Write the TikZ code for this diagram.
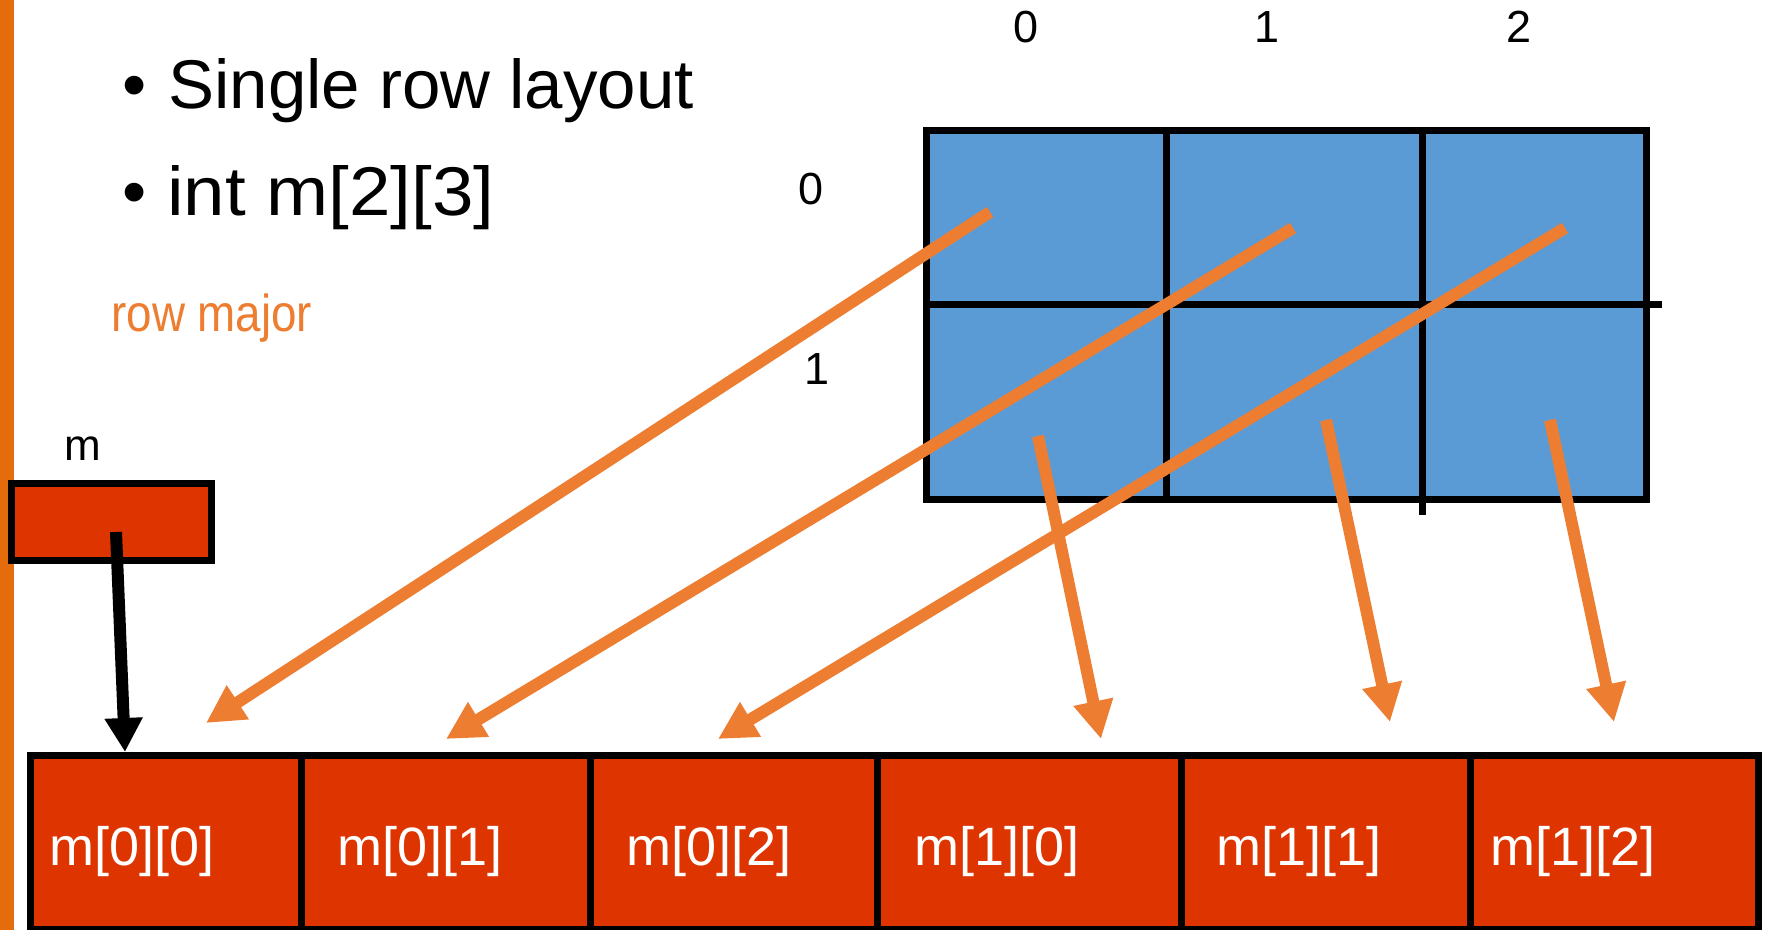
\documentclass[tikz,border=0pt]{standalone}
\usepackage{fontspec}
\setmainfont{Liberation Sans}
\newfontfamily\condfont[FakeStretch=0.88]{Liberation Sans}
\usetikzlibrary{arrows.meta,fit}

\definecolor{barorange}{RGB}{228,108,10}
\definecolor{linkorange}{RGB}{237,125,49}
\definecolor{cellblue}{RGB}{91,155,213}
\definecolor{memred}{RGB}{221,52,0}

\begin{document}
\begin{tikzpicture}[x=0.5pt,y=-0.5pt,
  gridcell/.style={draw=black, line width=3.5pt, fill=cellblue, inner sep=0pt, outer sep=0pt},
  memcell/.style={draw=black, line width=3.5pt, fill=memred, inner sep=0pt, outer sep=0pt},
  memlabel/.style={anchor=base west, text=white, font=\fontsize{27}{30}\selectfont, inner sep=0pt},
  idx/.style={anchor=base, font=\fontsize{22.5}{25}\selectfont, inner sep=0pt},
  bulletmark/.style={anchor=base, font=\fontsize{34.5}{40}\selectfont, inner sep=0pt},
  bullettext/.style={anchor=base west, font=\fontsize{34.5}{40}\selectfont, inner sep=0pt},
  link/.style={draw=linkorange, line width=6pt, -{Triangle[length=19pt,width=19pt]}},
  pointer/.style={draw=black, line width=6pt, -{Triangle[length=17pt,width=18pt]}},
]
\useasboundingbox (0,0) rectangle (1766,930);
\fill[white] (0,0) rectangle (1766,930);

% accent bar on the left edge
\fill[barorange] (0,0) rectangle (14,930);

% bullet points
\node[bulletmark] (b1) at (135,109) {•};
\node[bullettext] (t1) at (168,109) {Single row layout};
\node[bulletmark] (b2) at (135,216) {•};
\node[bullettext, xscale=1.08] (t2) at (167,216) {int m[2][3]};
\node[anchor=base west, inner sep=0pt, text=linkorange, font=\condfont\fontsize{26}{30}\selectfont] (rm) at (111,332) {row major};

% the 2x3 matrix
\node[gridcell, fit={(926,131)(1166,305)}] (g00) {};
\node[gridcell, fit={(1166,131)(1422,305)}] (g01) {};
\node[gridcell, fit={(1422,131)(1646,305)}] (g02) {};
\node[gridcell, fit={(926,305)(1166,499)}] (g10) {};
\node[gridcell, fit={(1166,305)(1422,499)}] (g11) {};
\node[gridcell, fit={(1422,305)(1646,499)}] (g12) {};
\coordinate (hstub) at (1662,305);
\coordinate (vstub) at (1422,515);
\draw[line width=3.5pt] (g02.south east) -- (hstub);
\draw[line width=3.5pt] (g12.south west) -- (vstub);

% column and row indices
\node[idx] (col0) at (1026,43) {0};
\node[idx] (col1) at (1267,43) {1};
\node[idx] (col2) at (1519,43) {2};
\node[idx] (row0) at (811,205) {0};
\node[idx] (row1) at (817,385) {1};

% the pointer variable m
\node[anchor=base, inner sep=0pt, font=\fontsize{22}{25}\selectfont] (mlabel) at (83,460) {m};
\node[memcell, fit={(11,483)(211,560)}] (p) {};

% the flat memory block
\node[memcell, fit={(30,755)(301,929)}] (c0) {};
\node[memcell, fit={(301,755)(590,929)}] (c1) {};
\node[memcell, fit={(590,755)(877,929)}] (c2) {};
\node[memcell, fit={(877,755)(1181,929)}] (c3) {};
\node[memcell, fit={(1181,755)(1470,929)}] (c4) {};
\node[memcell, fit={(1470,755)(1758,929)}] (c5) {};
\node[memlabel] (l0) at (49,865) {m[0][0]};
\node[memlabel] (l1) at (337,865) {m[0][1]};
\node[memlabel] (l2) at (626,865) {m[0][2]};
\node[memlabel] (l3) at (914,865) {m[1][0]};
\node[memlabel] (l4) at (1216,865) {m[1][1]};
\node[memlabel] (l5) at (1490,865) {m[1][2]};

% pointer from m to the first element
\coordinate (pstart) at (116,532);
\coordinate (ptip) at (125,752);
\draw[pointer] (pstart) -- (ptip);

% mapping of each matrix cell to its place in memory
\coordinate (s00) at (990,212);
\coordinate (s01) at (1293,228);
\coordinate (s02) at (1565,228);
\coordinate (s10) at (1038,436);
\coordinate (s11) at (1326,420);
\coordinate (s12) at (1550,420);
\coordinate (e00) at (206,723);
\coordinate (e01) at (446,739);
\coordinate (e02) at (718,739);
\coordinate (e10) at (1101,739);
\coordinate (e11) at (1390,722);
\coordinate (e12) at (1614,722);
\draw[link] (s00) -- (e00);
\draw[link] (s01) -- (e01);
\draw[link] (s02) -- (e02);
\draw[link] (s10) -- (e10);
\draw[link] (s11) -- (e11);
\draw[link] (s12) -- (e12);
\end{tikzpicture}
\end{document}
